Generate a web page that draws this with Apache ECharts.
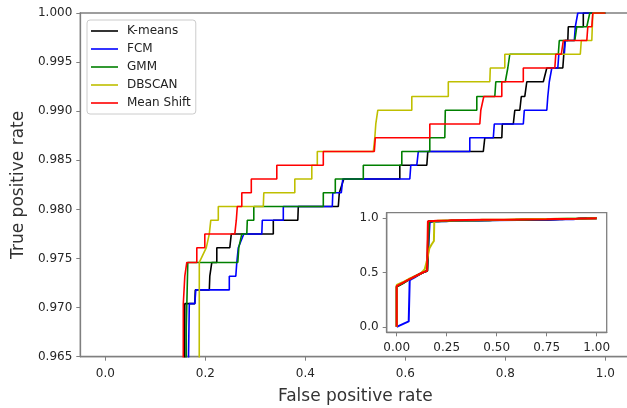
<!DOCTYPE html>
<html>
<head>
<meta charset="utf-8">
<script src="https://cdn.jsdelivr.net/npm/echarts@6/dist/echarts.min.js"></script>
<style>
html, body { margin: 0; padding: 0; background: #fff; }
#chart { width: 627px; height: 408px; }
</style>
</head>
<body>
<div id="chart"></div>
<script>
// ROC 曲线数据 [假阳性率, 真阳性率]
const kmeansRoc = [
  [0, 0], [0, 0.37], [0.03, 0.40], [0.06, 0.435], [0.13, 0.50], [0.152, 0.515],
  [0.159, 0.9704], [0.179, 0.9704], [0.180, 0.9718], [0.208, 0.9718], [0.209, 0.9732], [0.213, 0.9746],
  [0.223, 0.9746], [0.223, 0.9761], [0.249, 0.9761], [0.252, 0.9775], [0.336, 0.9775], [0.336, 0.9789],
  [0.385, 0.9789], [0.386, 0.9803], [0.466, 0.9803], [0.468, 0.9817], [0.477, 0.9831], [0.589, 0.9831],
  [0.589, 0.9845], [0.643, 0.9845], [0.645, 0.9859], [0.756, 0.9859], [0.759, 0.9873], [0.793, 0.9873],
  [0.794, 0.9887], [0.816, 0.9887], [0.819, 0.9901], [0.829, 0.9901], [0.832, 0.9915], [0.839, 0.9915],
  [0.843, 0.9930], [0.876, 0.9930], [0.883, 0.9944], [0.915, 0.9944], [0.917, 0.9958], [0.919, 0.9972],
  [0.925, 0.9972], [0.926, 0.9986], [0.956, 0.9986], [0.956, 1.0], [1, 1]
];
const fcmRoc = [
  [0, 0], [0.06, 0.05], [0.065, 0.43], [0.09, 0.455], [0.13, 0.50], [0.152, 0.515],
  [0.165, 0.96], [0.168, 0.9704], [0.179, 0.9704], [0.181, 0.9718], [0.248, 0.9718], [0.248, 0.9732],
  [0.261, 0.9732], [0.263, 0.9746], [0.266, 0.9761], [0.277, 0.9775], [0.313, 0.9775], [0.314, 0.9789],
  [0.356, 0.9789], [0.356, 0.9803], [0.454, 0.9803], [0.455, 0.9817], [0.472, 0.9817], [0.475, 0.9831],
  [0.609, 0.9831], [0.611, 0.9845], [0.623, 0.9845], [0.626, 0.9859], [0.729, 0.9859], [0.729, 0.9873],
  [0.776, 0.9873], [0.778, 0.9887], [0.836, 0.9887], [0.838, 0.9901], [0.883, 0.9901], [0.885, 0.9915],
  [0.888, 0.9930], [0.893, 0.9944], [0.905, 0.9944], [0.907, 0.9958], [0.918, 0.9958], [0.920, 0.9972],
  [0.938, 0.9972], [0.940, 0.9986], [0.944, 0.9986], [0.945, 1.0], [1, 1]
];
const gmmRoc = [
  [0, 0], [0, 0.37], [0.03, 0.40], [0.06, 0.435], [0.13, 0.50], [0.153, 0.515],
  [0.162, 0.968], [0.165, 0.9746], [0.265, 0.9746], [0.267, 0.9761], [0.273, 0.9775], [0.283, 0.9775],
  [0.284, 0.9789], [0.297, 0.9789], [0.297, 0.9803], [0.436, 0.9803], [0.436, 0.9817], [0.460, 0.9817],
  [0.460, 0.9831], [0.516, 0.9831], [0.516, 0.9845], [0.593, 0.9845], [0.593, 0.9859], [0.649, 0.9859],
  [0.649, 0.9873], [0.679, 0.9873], [0.680, 0.9901], [0.743, 0.9901], [0.743, 0.9915], [0.779, 0.9915],
  [0.781, 0.9930], [0.800, 0.9930], [0.805, 0.9944], [0.809, 0.9958], [0.906, 0.9958], [0.908, 0.9972],
  [0.939, 0.9972], [0.943, 0.9986], [0.963, 0.9986], [0.969, 1.0], [1, 1]
];
const dbscanRoc = [
  [0, 0], [0, 0.385], [0.03, 0.41], [0.06, 0.44], [0.12, 0.49], [0.14, 0.53], [0.15, 0.60],
  [0.163, 0.72], [0.175, 0.76], [0.186, 0.79], [0.188, 0.9746], [0.202, 0.9761], [0.208, 0.9775],
  [0.211, 0.9789], [0.226, 0.9789], [0.226, 0.9803], [0.316, 0.9803], [0.317, 0.9817], [0.379, 0.9817],
  [0.379, 0.9831], [0.413, 0.9831], [0.413, 0.9845], [0.424, 0.9845], [0.424, 0.9859], [0.536, 0.9859],
  [0.539, 0.9873], [0.541, 0.9887], [0.545, 0.9901], [0.613, 0.9901], [0.613, 0.9915], [0.686, 0.9915],
  [0.686, 0.9930], [0.769, 0.9930], [0.770, 0.9944], [0.799, 0.9944], [0.799, 0.9958], [0.950, 0.9958],
  [0.952, 0.9972], [0.973, 0.9972], [0.975, 1.0], [1, 1]
];
const meanShiftRoc = [
  [0, 0], [0, 0.375], [0.03, 0.405], [0.06, 0.435], [0.13, 0.50], [0.152, 0.515],
  [0.156, 0.9704], [0.159, 0.9732], [0.163, 0.9746], [0.183, 0.9746], [0.183, 0.9761], [0.199, 0.9761],
  [0.199, 0.9775], [0.259, 0.9775], [0.262, 0.9789], [0.264, 0.9803], [0.273, 0.9803], [0.273, 0.9817],
  [0.292, 0.9817], [0.292, 0.9831], [0.343, 0.9831], [0.343, 0.9845], [0.436, 0.9845], [0.436, 0.9859],
  [0.538, 0.9859], [0.540, 0.9873], [0.649, 0.9873], [0.649, 0.9887], [0.749, 0.9887], [0.751, 0.9901],
  [0.755, 0.9901], [0.757, 0.9915], [0.793, 0.9915], [0.793, 0.9930], [0.836, 0.9930], [0.836, 0.9944],
  [0.899, 0.9944], [0.901, 0.9958], [0.912, 0.9958], [0.916, 0.9972], [0.963, 0.9972], [0.965, 0.9986],
  [0.973, 0.9986], [0.975, 1.0], [1, 1]
];

const seriesNames = ['K-means', 'FCM', 'GMM', 'DBSCAN', 'Mean Shift'];
const seriesData = [kmeansRoc, fcmRoc, gmmRoc, dbscanRoc, meanShiftRoc];
const seriesColors = ['#000000', '#0000ff', '#008000', '#bfbf00', '#ff0000'];

// 刻度
const mainXTicks = [0, 0.2, 0.4, 0.6, 0.8, 1.0];
const mainYTicks = [0.965, 0.970, 0.975, 0.980, 0.985, 0.990, 0.995, 1.000];
const insetXTicks = [0, 0.25, 0.5, 0.75, 1.0];
const insetYTicks = [0, 0.5, 1.0];

const FONT = 'DejaVu Sans';
const SPINE = '#7f7f7f';

// 坐标轴通用配置
function makeAxis(gridIndex, min, max, ticks, digits, margin) {
  return {
    type: 'value',
    gridIndex: gridIndex,
    min: min,
    max: max,
    axisLine: { show: true, onZero: false, lineStyle: { color: SPINE, width: 1.3 } },
    axisTick: { show: true, customValues: ticks, length: 4, lineStyle: { color: SPINE, width: 1 } },
    axisLabel: {
      customValues: ticks,
      margin: margin,
      fontFamily: FONT,
      fontSize: 12,
      color: '#262626',
      formatter: v => Number(v).toFixed(digits)
    },
    splitLine: { show: false }
  };
}

const chart = echarts.init(document.getElementById('chart'));

const series = [];
// 主图
seriesData.forEach((d, i) => {
  series.push({
    name: seriesNames[i], type: 'line', xAxisIndex: 0, yAxisIndex: 0,
    data: d, symbol: 'none', showSymbol: false, clip: true,
    lineStyle: { color: seriesColors[i], width: 1.6 },
    itemStyle: { color: seriesColors[i] },
    emphasis: { disabled: true }
  });
});
// 小图
seriesData.forEach((d, i) => {
  series.push({
    name: seriesNames[i], type: 'line', xAxisIndex: 1, yAxisIndex: 1,
    data: d, symbol: 'none', showSymbol: false, clip: true,
    lineStyle: { color: seriesColors[i], width: 2 },
    itemStyle: { color: seriesColors[i] },
    emphasis: { disabled: true }
  });
});

const mainX = makeAxis(0, -0.05, 1.05, mainXTicks, 1, 11);
mainX.name = 'False positive rate';
mainX.nameLocation = 'middle';
mainX.nameGap = 31;
mainX.nameTextStyle = { fontFamily: FONT, fontSize: 17, color: '#333' };

const mainY = makeAxis(0, 0.965, 1.0, mainYTicks, 3, 8);
mainY.name = 'True positive rate';
mainY.nameLocation = 'middle';
mainY.nameGap = 51;
mainY.nameTextStyle = { fontFamily: FONT, fontSize: 17, color: '#333' };

const option = {
  animation: false,
  backgroundColor: '#fff',
  grid: [
    { left: 80.3, top: 13, right: -3.3, bottom: 51.3, containLabel: false, outerBoundsMode: 'none',
      show: true, borderColor: SPINE, borderWidth: 1.3, backgroundColor: 'transparent' },
    { left: 386.7, top: 212.7, width: 220, height: 119.6, containLabel: false, outerBoundsMode: 'none',
      show: true, borderColor: SPINE, borderWidth: 1.3, backgroundColor: '#fff' }
  ],
  legend: {
    orient: 'vertical',
    left: 87, top: 20,
    padding: [5, 5, 5, 4],
    itemWidth: 27, itemHeight: 12, itemGap: 6,
    icon: 'path://M0,0H27V1.6H0Z',
    backgroundColor: 'rgba(255,255,255,0.8)',
    borderColor: '#cccccc', borderWidth: 1, borderRadius: 3,
    textStyle: { fontFamily: FONT, fontSize: 12, color: '#222', padding: [0, 0, 0, 4] },
    data: seriesNames,
    selectedMode: false
  },
  xAxis: [mainX, makeAxis(1, -0.05, 1.05, insetXTicks, 2, 10)],
  yAxis: [mainY, makeAxis(1, -0.05, 1.05, insetYTicks, 1, 8)],
  series: series
};

chart.setOption(option);
</script>
</body>
</html>
